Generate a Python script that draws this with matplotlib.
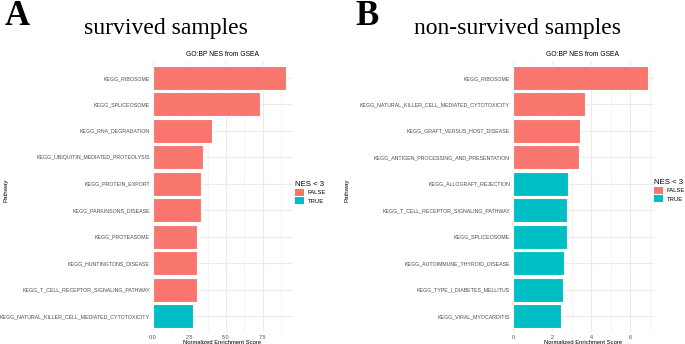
import matplotlib
matplotlib.use("Agg")
import matplotlib.pyplot as plt
from matplotlib.patches import Patch
import numpy as np

# ---- data ---------------------------------------------------------------
surv_paths = ["KEGG_RIBOSOME", "KEGG_SPLICEOSOME", "KEGG_RNA_DEGRADATION",
              "KEGG_UBIQUITIN_MEDIATED_PROTEOLYSIS", "KEGG_PROTEIN_EXPORT",
              "KEGG_PARKINSONS_DISEASE", "KEGG_PROTEASOME",
              "KEGG_HUNTINGTONS_DISEASE", "KEGG_T_CELL_RECEPTOR_SIGNALING_PATHWAY",
              "KEGG_NATURAL_KILLER_CELL_MEDIATED_CYTOTOXICITY"]
surv_nes = [9.09, 7.29, 4.06, 3.41, 3.27, 3.27, 3.05, 3.02, 3.00, 2.73]

nons_paths = ["KEGG_RIBOSOME", "KEGG_NATURAL_KILLER_CELL_MEDIATED_CYTOTOXICITY",
              "KEGG_GRAFT_VERSUS_HOST_DISEASE",
              "KEGG_ANTIGEN_PROCESSING_AND_PRESENTATION",
              "KEGG_ALLOGRAFT_REJECTION", "KEGG_T_CELL_RECEPTOR_SIGNALING_PATHWAY",
              "KEGG_SPLICEOSOME", "KEGG_AUTOIMMUNE_THYROID_DISEASE",
              "KEGG_TYPE_I_DIABETES_MELLITUS", "KEGG_VIRAL_MYOCARDITIS"]
nons_nes = [6.90, 3.69, 3.42, 3.38, 2.80, 2.79, 2.79, 2.62, 2.55, 2.46]

surv_ticks = [0.0, 2.5, 5.0, 7.5]
nons_ticks = [0, 2, 4, 6]

# ---- style ----------------------------------------------------------------
W, H = 685, 344
C_FALSE = "#F8766D"
C_TRUE = "#00BFC4"
GRID = "#EBEBEB"
TXT = "#4D4D4D"
SANS = "Liberation Sans"
SERIF = "Liberation Serif"

fig = plt.figure(figsize=(W / 100, H / 100), dpi=100)


def px_axes(x0, x1, y0, y1):
    # pixel box (top-left origin) -> figure fraction
    return fig.add_axes([x0 / W, 1 - y1 / H, (x1 - x0) / W, (y1 - y0) / H])


def panel(ax, paths, nes, ticks, xlim, minor):
    n = len(paths)
    ypos = np.arange(n)[::-1]
    cols = [C_TRUE if v < 3 else C_FALSE for v in nes]
    ax.set_xlim(*xlim)
    ax.set_ylim(-0.6, n - 0.4)
    for m in minor:
        ax.axvline(m, color=GRID, lw=0.4, zorder=0)
    for t in ticks:
        ax.axvline(t, color=GRID, lw=0.8, zorder=0)
    for y in ypos:
        ax.axhline(y, color=GRID, lw=0.8, zorder=0)
    ax.barh(ypos, nes, height=0.9, color=cols, edgecolor="white",
            linewidth=0.8, zorder=2)
    ax.set_yticks(ypos)
    ax.set_yticklabels(paths, fontsize=3.8, color=TXT, family=SANS)
    ax.set_xticks(ticks)
    ax.set_xticklabels([str(t) for t in ticks], fontsize=3.9, color=TXT,
                       family=SANS)
    ax.tick_params(axis="y", length=0, pad=1)
    ax.tick_params(axis="x", length=0, pad=2)
    for s in ax.spines.values():
        s.set_visible(False)
    ax.set_xlabel("Normalized Enrichment Score", fontsize=4.2, family=SANS,
                  labelpad=0.5)
    ax.set_title("GO:BP NES from GSEA", fontsize=4.9, family=SANS, pad=4)


axL = px_axes(151.5, 292.7, 62, 332)
panel(axL, surv_paths, surv_nes, surv_ticks, (-0.08, 9.545),
      [1.25, 3.75, 6.25, 8.75])
axR = px_axes(511.5, 654.3, 62, 332)
panel(axR, nons_paths, nons_nes, nons_ticks, (-0.077, 7.245), [1, 3, 5, 7])

# Pathway labels
fig.text(6 / W, 1 - 190 / H, "Pathway", rotation=90, fontsize=4.4,
         family=SANS, ha="center", va="center")
fig.text(347 / W, 1 - 190 / H, "Pathway", rotation=90, fontsize=4.4,
         family=SANS, ha="center", va="center")

# legends
handles = [Patch(facecolor=C_FALSE, edgecolor="none", label="FALSE"),
           Patch(facecolor=C_TRUE, edgecolor="none", label="TRUE")]
for lx, ly in [(295, 181), (654, 179)]:
    lg = fig.legend(handles=handles, title="NES < 3", loc="upper left",
                    bbox_to_anchor=(lx / W, 1 - ly / H), frameon=False,
                    title_fontsize=5.6, handlelength=1.6,
                    handleheight=1.6, handletextpad=0.6, labelspacing=0.12,
                    borderpad=0, borderaxespad=0,
                    prop={"family": SANS, "size": 4.2})
    lg._legend_box.align = "left"
    lg.get_title().set_family(SANS)

# panel letters and headings
fig.text(5 / W, 1 - 25 / H, "A", fontsize=25, fontweight="bold", family=SERIF,
         ha="left", va="baseline")
fig.text(355 / W, 1 - 25 / H, "B", fontsize=25, fontweight="bold", family=SERIF,
         ha="left", va="baseline")
fig.text(166 / W, 1 - 34 / H, "survived samples", fontsize=17, family=SERIF,
         ha="center", va="baseline")
fig.text(517 / W, 1 - 34 / H, "non-survived samples", fontsize=17, family=SERIF,
         ha="center", va="baseline")

fig.savefig("out.png", dpi=100)
